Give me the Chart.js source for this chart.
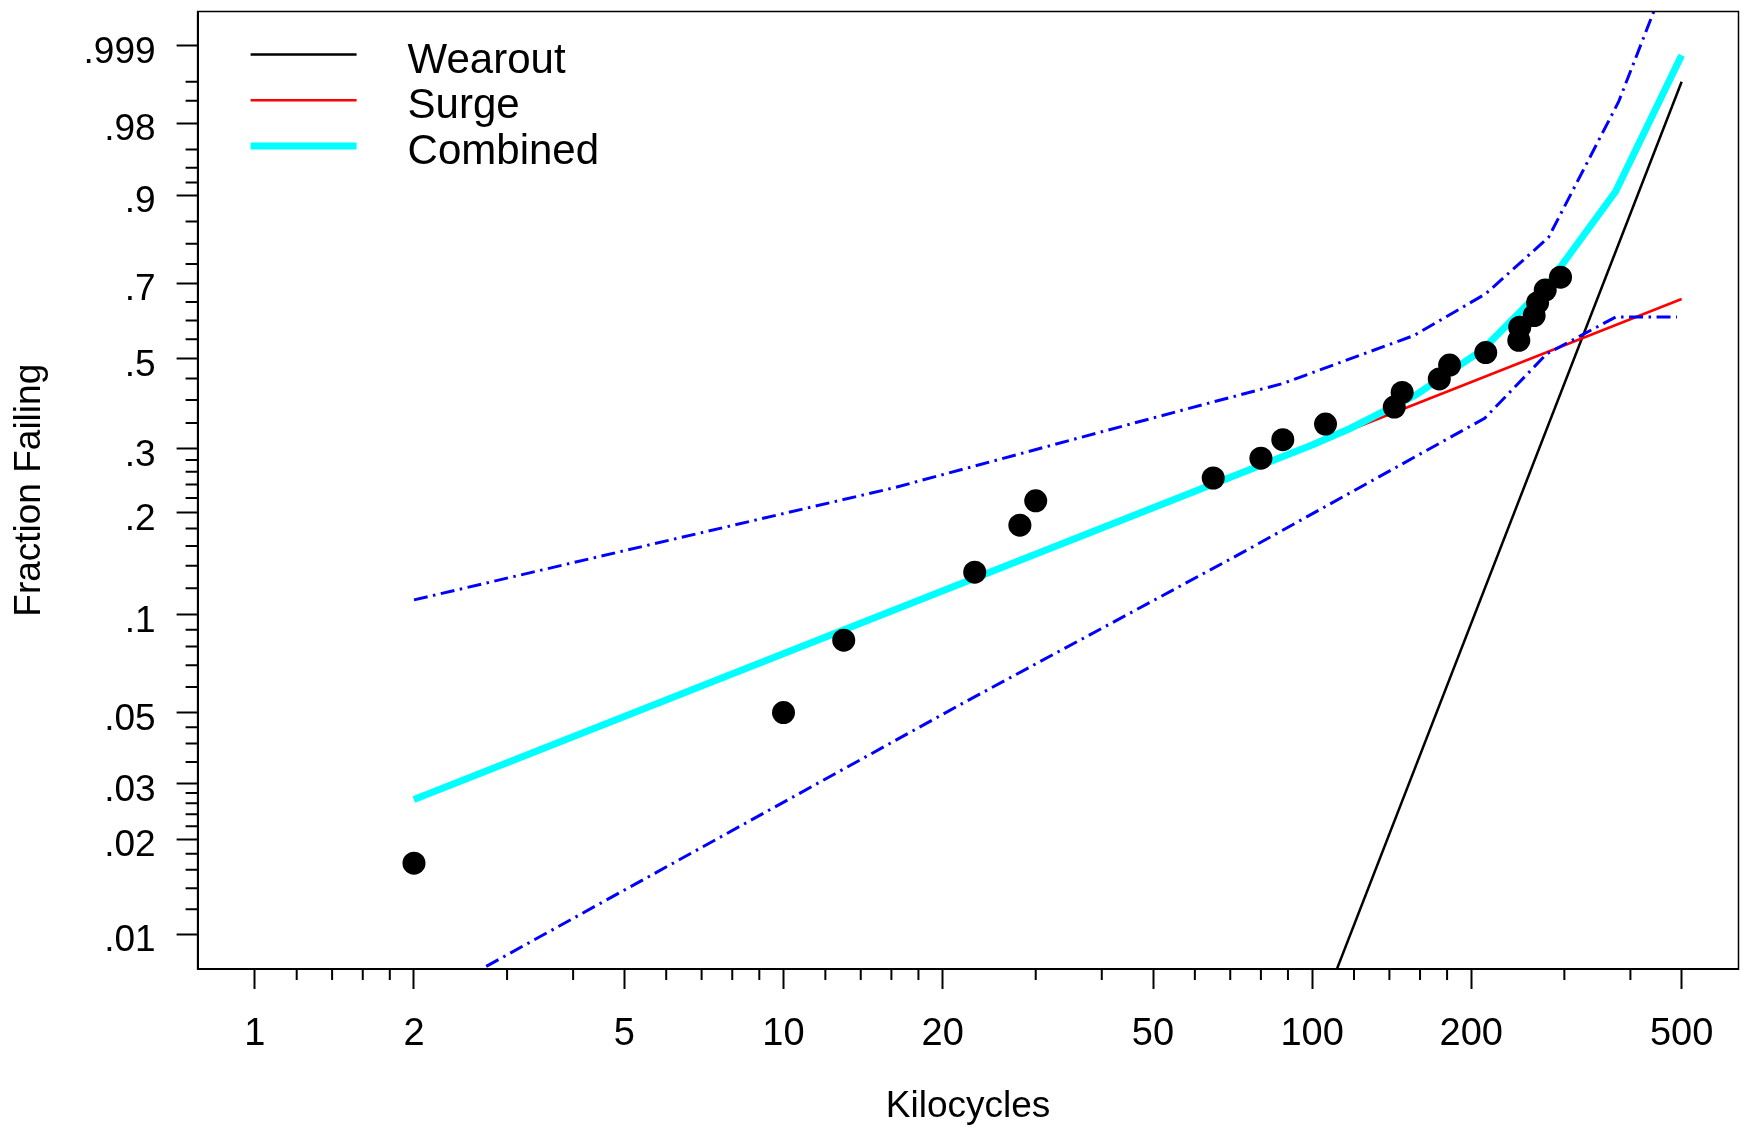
<!DOCTYPE html>
<html>
<head>
<meta charset="utf-8">
<script src="https://cdn.jsdelivr.net/npm/chart.js@4.4.1/dist/chart.umd.min.js"></script>
<style>
  html, body { margin: 0; padding: 0; background: #fff; }
  #wrap { width: 1750px; height: 1129px; }
</style>
</head>
<body>
<div id="wrap"><canvas id="weibullChart"></canvas></div>
<script>
// observed failures: kilocycles and plotted fraction failing
const failKc = [2, 10, 13, 23, 28, 30, 65, 80, 88, 106, 143, 148, 174, 182, 213, 246, 247, 263, 267, 276, 295];
const failFrac = [0.0168, 0.050, 0.0836, 0.134, 0.184, 0.216, 0.250, 0.283, 0.317, 0.348, 0.384, 0.417,
                  0.449, 0.483, 0.515, 0.547, 0.582, 0.613, 0.648, 0.682, 0.716];

// fitted lines
const wearoutKc = [105, 500];
const wearoutFrac = [0.0060, 0.995];
const surgeKc = [2, 500];
const surgeFrac = [0.0267, 0.658];
const combinedKc = [2, 100, 118, 157, 210, 280, 375, 500];
const combinedFrac = [0.0267, 0.307, 0.339, 0.411, 0.522, 0.700, 0.906, 0.9984];

// confidence bounds
const upperKc = [2, 16.2, 51.3, 88, 156, 213, 280, 380, 500];
const upperFrac = [0.1108, 0.235, 0.364, 0.438, 0.560, 0.672, 0.815, 0.9897, 0.9999997];
const lowerKc = [2, 22, 72, 212, 278, 375, 490];
const lowerFrac = [0.0059, 0.0538, 0.150, 0.360, 0.512, 0.609, 0.609];

// axis ticks
const xTicks = [1, 2, 5, 10, 20, 50, 100, 200, 500];
const xMinor = [1.2, 1.4, 1.6, 1.8, 3, 4, 6, 7, 8, 9, 12, 14, 16, 18, 30, 40, 60, 70, 80, 90,
                120, 140, 160, 180, 300, 400];
const yTicks = [0.01, 0.02, 0.03, 0.05, 0.1, 0.2, 0.3, 0.5, 0.7, 0.9, 0.98, 0.999];
const yTickLabels = ['.01', '.02', '.03', '.05', '.1', '.2', '.3', '.5', '.7', '.9', '.98', '.999'];
const yMinor = [0.012, 0.014, 0.016, 0.018, 0.022, 0.024, 0.026, 0.028, 0.035, 0.04, 0.045,
                0.06, 0.07, 0.08, 0.09, 0.12, 0.14, 0.16, 0.18, 0.22, 0.24, 0.26, 0.28,
                0.35, 0.4, 0.45, 0.55, 0.6, 0.65, 0.75, 0.8, 0.85, 0.92, 0.94, 0.96, 0.99, 0.995];
const legendLabels = ['Wearout', 'Surge', 'Combined'];

// weibull probability paper: y = ln(-ln(1-p))
function wb(p) { return Math.log(-Math.log(1 - p)); }
function toXY(kc, frac) { return kc.map((k, i) => ({ x: k, y: wb(frac[i]) })); }

Chart.defaults.font.family = '"Liberation Sans", Arial, Helvetica, sans-serif';
Chart.defaults.color = '#000';

// box round the plot + the short minor ticks
const frameTicks = {
    id: 'frameTicks',
    afterDraw(chart) {
        const { ctx, chartArea: a, scales } = chart;
        ctx.save();
        ctx.strokeStyle = '#000';
        ctx.lineWidth = 1.5;
        ctx.strokeRect(a.left, a.top, a.right - a.left, a.bottom - a.top);
        ctx.lineWidth = 2;
        ctx.beginPath();
        xMinor.forEach(v => {
            const px = scales.x.getPixelForValue(v);
            ctx.moveTo(px, a.bottom);
            ctx.lineTo(px, a.bottom + 11);
        });
        yMinor.forEach(p => {
            const py = scales.y.getPixelForValue(wb(p));
            ctx.moveTo(a.left - 12, py);
            ctx.lineTo(a.left, py);
        });
        ctx.stroke();
        ctx.restore();
    }
};

// legend with line samples, inside the plot
const lineLegend = {
    id: 'lineLegend',
    afterDraw(chart) {
        const ctx = chart.ctx;
        const a = chart.chartArea;
        ctx.save();
        ctx.font = '42px "Liberation Sans", Arial, sans-serif';
        ctx.fillStyle = '#000';
        ctx.textBaseline = 'alphabetic';
        legendLabels.forEach((name, i) => {
            const ds = chart.data.datasets.find(d => d.label === name);
            const y = a.top + 43 + i * 45.8;
            ctx.strokeStyle = ds.borderColor;
            ctx.lineWidth = ds.borderWidth;
            ctx.beginPath();
            ctx.moveTo(a.left + 53, y);
            ctx.lineTo(a.left + 159, y);
            ctx.stroke();
            ctx.fillText(name, a.left + 210, y + 18);
        });
        ctx.restore();
    }
};

//setup
const data = {
    datasets: [
        {
            label: 'Failures',
            data: toXY(failKc, failFrac),
            showLine: false,
            pointRadius: 11.5,
            pointBackgroundColor: '#000',
            pointBorderWidth: 0
        },
        {
            label: 'Upper bound',
            data: toXY(upperKc, upperFrac),
            showLine: true,
            borderColor: '#0000ff',
            borderWidth: 3,
            borderDash: [14, 5.5, 2.5, 5.5],
            pointRadius: 0
        },
        {
            label: 'Lower bound',
            data: toXY(lowerKc, lowerFrac),
            showLine: true,
            borderColor: '#0000ff',
            borderWidth: 3,
            borderDash: [14, 5.5, 2.5, 5.5],
            pointRadius: 0
        },
        {
            label: 'Combined',
            data: toXY(combinedKc, combinedFrac),
            showLine: true,
            borderColor: '#00ffff',
            borderWidth: 7,
            pointRadius: 0
        },
        {
            label: 'Surge',
            data: toXY(surgeKc, surgeFrac),
            showLine: true,
            borderColor: '#ff0000',
            borderWidth: 2.5,
            pointRadius: 0
        },
        {
            label: 'Wearout',
            data: toXY(wearoutKc, wearoutFrac),
            showLine: true,
            borderColor: '#000000',
            borderWidth: 2.5,
            pointRadius: 0
        }
    ]
};

// configuration
const config = {
    type: 'scatter',
    data: data,
    options: {
        responsive: true,
        maintainAspectRatio: false,
        animation: false,
        events: [],
        layout: { padding: { top: 6, right: 10, left: 0, bottom: 0 } },
        plugins: {
            legend: { display: false },
            tooltip: { enabled: false }
        },
        scales: {
            x: {
                type: 'logarithmic',
                min: 0.7793,
                max: 640.5,
                afterBuildTicks: s => { s.ticks = xTicks.map(v => ({ value: v })); },
                afterFit: s => { s.height = 160; s.paddingLeft = 0; s.paddingRight = 0; },
                ticks: {
                    autoSkip: false,
                    maxRotation: 0,
                    padding: 23,
                    color: '#000',
                    font: { size: 38 },
                    callback: v => String(v)
                },
                grid: { drawOnChartArea: false, drawTicks: true, tickLength: 20, tickWidth: 2, tickColor: '#000' },
                border: { display: true, color: '#000', width: 2 },
                title: {
                    display: true,
                    text: 'Kilocycles',
                    color: '#000',
                    font: { size: 37 },
                    padding: { top: 0, bottom: 0 }
                }
            },
            y: {
                type: 'linear',
                min: -4.856,
                max: 2.184,
                afterBuildTicks: s => { s.ticks = yTicks.map(p => ({ value: wb(p) })); },
                afterFit: s => { s.width = 197.6; s.paddingTop = 0; s.paddingBottom = 0; },
                ticks: {
                    autoSkip: false,
                    padding: 21,
                    labelOffset: 7,
                    color: '#000',
                    font: { size: 37 },
                    callback: (v, i) => yTickLabels[i]
                },
                grid: { drawOnChartArea: false, drawTicks: true, tickLength: 21, tickWidth: 2, tickColor: '#000' },
                border: { display: true, color: '#000', width: 2 },
                title: {
                    display: true,
                    text: 'Fraction Failing',
                    color: '#000',
                    font: { size: 37 },
                    padding: { top: 8, bottom: 0 }
                }
            }
        }
    },
    plugins: [frameTicks, lineLegend]
};

//render
const myChart = new Chart(document.getElementById('weibullChart'), config);
</script>
</body>
</html>
